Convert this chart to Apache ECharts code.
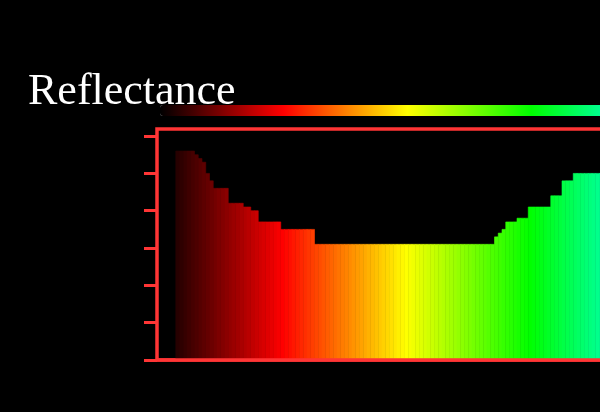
<!DOCTYPE html>
<html>
<head>
<meta charset="utf-8">
<script src="https://cdn.jsdelivr.net/npm/echarts@6/dist/echarts.min.js"></script>
<style>
  html, body { margin: 0; padding: 0; background: #000; }
  #chart { width: 600px; height: 412px; }
</style>
</head>
<body>
<div id="chart"></div>
<script>
// Reflectance per spectral bin (bins 0-4 are empty)
const reflectance = [
  null, null, null, null, null,
  56, 56, 56, 56, 56,
  55, 54, 53, 50, 48,
  46, 46, 46, 46,
  42, 42, 42, 42,
  41, 41, 40, 40,
  37, 37, 37, 37, 37, 37,
  35, 35, 35, 35, 35, 35, 35, 35, 35,
  31, 31, 31, 31, 31, 31, 31, 31, 31, 31, 31, 31,
  31, 31, 31, 31, 31, 31, 31, 31, 31, 31, 31, 31,
  31, 31, 31, 31, 31, 31, 31, 31, 31, 31, 31, 31,
  31, 31, 31, 31, 31, 31, 31, 31, 31, 31, 31, 31,
  33, 34, 35,
  37, 37, 37,
  38, 38, 38,
  41, 41, 41, 41, 41, 41,
  44, 44, 44,
  48, 48, 48,
  50, 50, 50, 50, 50, 50, 50, 50, 50, 50
];
const bins = reflectance.map((_, i) => String(i));
const yTicks = [0, 10, 20, 30, 40, 50, 60];
const titleText = 'Reflectance';
const spectrumColors = ['#000000', '#ff0000', '#ffff00', '#00ff00', '#00ffff'];

const seriesData = [];
reflectance.forEach((v, i) => { if (v !== null) seriesData.push([i, v]); });

const frameColor = '#ff3535';
const chart = echarts.init(document.getElementById('chart'), null, { renderer: 'canvas' });
chart.setOption({
  backgroundColor: '#000000',
  animation: false,
  title: {
    text: titleText,
    left: 28,
    top: 70,
    padding: 0,
    textStyle: {
      color: '#ffffff',
      fontFamily: 'Liberation Serif',
      fontSize: 44,
      fontWeight: 'normal'
    }
  },
  grid: {
    left: 157,
    top: 129,
    width: 453.75,
    height: 231,
    outerBoundsMode: 'none',
    containLabel: false,
    show: true,
    borderColor: frameColor,
    borderWidth: 3.5,
    backgroundColor: 'transparent'
  },
  visualMap: {
    type: 'continuous',
    show: true,
    min: 0,
    max: 132,
    dimension: 0,
    seriesIndex: 0,
    orient: 'horizontal',
    left: 160,
    top: 105,
    padding: 0,
    itemWidth: 11,
    itemHeight: 495,
    calculable: false,
    hoverLink: false,
    text: null,
    inRange: { color: spectrumColors }
  },
  xAxis: {
    type: 'category',
    data: bins,
    boundaryGap: true,
    z: 10,
    axisLine: { show: true, lineStyle: { color: frameColor, width: 3.5 } },
    axisTick: { show: false },
    axisLabel: { show: false },
    splitLine: { show: false }
  },
  yAxis: {
    type: 'value',
    min: yTicks[0],
    max: 61.9,
    interval: 10,
    axisLine: { show: false },
    axisTick: { show: true, length: 13, inside: false, customValues: yTicks, lineStyle: { color: frameColor, width: 3 } },
    axisLabel: { show: false },
    splitLine: { show: false }
  },
  series: [{
    type: 'custom',
    data: seriesData,
    encode: { x: 0, y: 1 },
    renderItem: function (params, api) {
      const i = api.value(0), v = api.value(1);
      const top = api.coord([i, v]);
      const base = api.coord([i, 0]);
      const w = api.size([1, 0])[0];
      const c = api.visual('color');
      return {
        type: 'rect',
        shape: { x: top[0] - w / 2, y: top[1], width: w, height: base[1] - top[1] },
        style: { fill: c, stroke: c, lineWidth: 0.6 }
      };
    }
  }]
});
</script>
</body>
</html>
